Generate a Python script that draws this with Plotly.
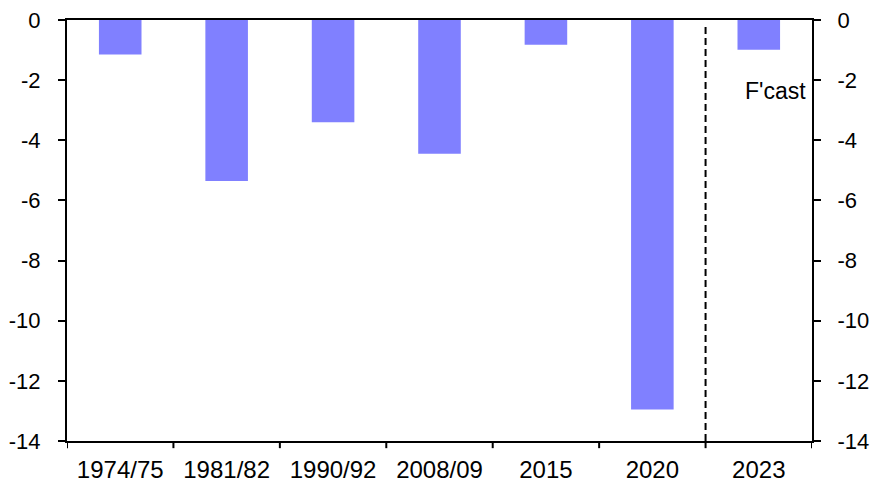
import plotly.graph_objects as go

categories = ["1974/75", "1981/82", "1990/92", "2008/09", "2015", "2020", "2023"]
values = [-1.15, -5.35, -3.4, -4.45, -0.82, -12.95, -0.99]
y_ticks = [0, -2, -4, -6, -8, -10, -12, -14]
forecast_label = "F'cast"

FONT = "Liberation Sans, Arial, sans-serif"

fig = go.Figure()
fig.add_trace(go.Bar(x=list(range(len(categories))), y=values,
                     marker=dict(color="#8080FF", line=dict(width=0)),
                     width=0.4, showlegend=False, hoverinfo="skip"))
# invisible trace on right axis
fig.add_trace(go.Scatter(x=[0], y=[0], yaxis="y2", mode="markers",
                         marker=dict(opacity=0), showlegend=False, hoverinfo="skip"))

axis_common = dict(range=[-14, 0], tickvals=y_ticks, ticktext=[str(v) for v in y_ticks],
                   showgrid=False, zeroline=False, showline=True, linecolor="black",
                   linewidth=2, ticks="outside", ticklen=7, tickwidth=2, tickcolor="black",
                   automargin=False,
                   tickfont=dict(family=FONT, size=22, color="black"))

fig.update_layout(
    width=883, height=488,
    margin=dict(l=67, r=71, t=20, b=47, autoexpand=False),
    plot_bgcolor="white", paper_bgcolor="white",
    xaxis=dict(range=[-0.5, len(categories) - 0.5],
               tickvals=list(range(len(categories))), ticktext=categories,
               showgrid=False, zeroline=False, showline=True, linecolor="black",
               linewidth=2, mirror=True, ticks="", automargin=False,
               ticklabelstandoff=6,
               tickfont=dict(family=FONT, size=24, color="black")),
    yaxis=dict(side="left", ticklabelstandoff=13, **axis_common),
    yaxis2=dict(side="right", overlaying="y", ticklabelstandoff=12, **axis_common),
)

# category boundary ticks on x axis
for i in range(len(categories) + 1):
    fig.add_shape(type="line", xref="x", yref="paper", x0=i - 0.5, x1=i - 0.5,
                  y0=0, y1=-0.017, line=dict(color="black", width=2))

# forecast divider
fig.add_shape(type="line", xref="x", yref="y", x0=len(categories) - 1.5, x1=len(categories) - 1.5,
              y0=-14, y1=-0.15, line=dict(color="black", width=2, dash="7px,4px"))

fig.add_annotation(x=1, xref="paper", y=-2.35, yref="y", text=forecast_label,
                   showarrow=False, xanchor="right", xshift=-4,
                   font=dict(family=FONT, size=23, color="black"))

fig.write_html("out.html", config={"displayModeBar": False},
               post_script="document.body.style.margin='0';")
